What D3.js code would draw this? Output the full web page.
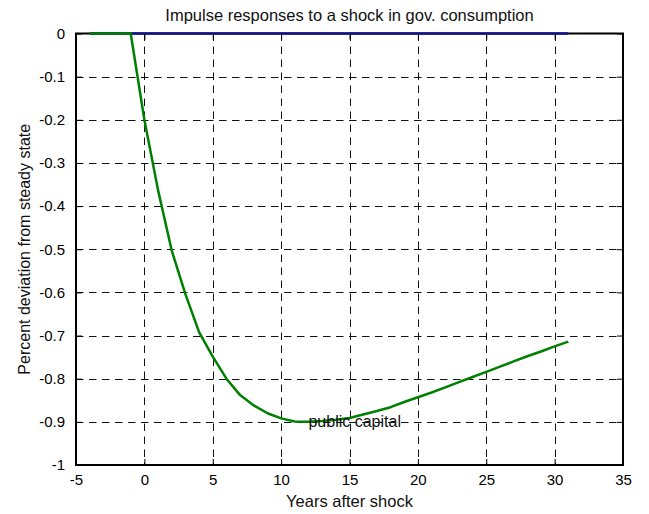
<!DOCTYPE html>
<html>
<head>
<meta charset="utf-8">
<script src="https://cdn.jsdelivr.net/npm/d3@7"></script>
<style>
  html, body { margin: 0; padding: 0; background: #fff; }
  svg { display: block; font-family: "Liberation Sans", Arial, Helvetica, sans-serif; }
</style>
</head>
<body>
<svg id="chart" width="649" height="514"></svg>
<script>
// Years after the shock (annual observations)
const years = [-4,-3,-2,-1,0,1,2,3,4,5,6,7,8,9,10,11,12,13,14,15,16,17,18,19,20,21,22,23,24,25,26,27,28,29,30,31];

// Response of government consumption (flat at steady state)
const govConsumption = [0,0,0,0,0,0,0,0,0,0,0,0,0,0,0,0,0,0,0,0,0,0,0,0,0,0,0,0,0,0,0,0,0,0,0,0];

// Response of public capital, percent deviation from steady state
const publicCapital = [0,0,0,0,-0.200,-0.363,-0.503,-0.604,-0.692,-0.749,-0.800,-0.838,-0.862,-0.880,-0.892,-0.899,-0.900,-0.898,-0.895,-0.891,-0.883,-0.875,-0.866,-0.854,-0.843,-0.832,-0.820,-0.808,-0.796,-0.784,-0.772,-0.760,-0.748,-0.737,-0.725,-0.714];

const xTicks = [-5,0,5,10,15,20,25,30,35];
const xTickLabels = ["-5","0","5","10","15","20","25","30","35"];
const yTicks = [0,-0.1,-0.2,-0.3,-0.4,-0.5,-0.6,-0.7,-0.8,-0.9,-1];
const yTickLabels = ["0","-0.1","-0.2","-0.3","-0.4","-0.5","-0.6","-0.7","-0.8","-0.9","-1"];

const titleText = "Impulse responses to a shock in gov. consumption";
const xLabelText = "Years after shock";
const yLabelText = "Percent deviation from steady state";
const annotation = { text: "public capital", x: 12, y: -0.9 };

const svg = d3.select("#chart");
const L = 76, R = 623, T = 33.5, B = 465;

const x = d3.scaleLinear().domain([-5, 35]).range([L, R]);
const y = d3.scaleLinear().domain([-1, 0]).range([B, T]);

const tickLen = 6;
const dash = "7.5,5.5";
const fontFamily = '"Liberation Sans", Arial, Helvetica, sans-serif';

// Grid lines
const grid = svg.append("g");
grid.selectAll(".vg").data(xTicks.slice(1, -1)).join("line")
  .attr("x1", d => Math.round(x(d)) + 0.5).attr("x2", d => Math.round(x(d)) + 0.5)
  .attr("y1", T).attr("y2", B)
  .attr("stroke", "#111").attr("stroke-width", 1).attr("stroke-dasharray", dash);
grid.selectAll(".hg").data(yTicks.slice(1, -1)).join("line")
  .attr("x1", L).attr("x2", R)
  .attr("y1", d => Math.round(y(d)) + 0.5).attr("y2", d => Math.round(y(d)) + 0.5)
  .attr("stroke", "#111").attr("stroke-width", 1).attr("stroke-dasharray", dash);

// Axes via d3.axis with inward ticks
const tickFont = 15;
const xAxis = svg.append("g").attr("transform", `translate(0,${B})`)
  .call(d3.axisBottom(x).tickValues(xTicks).tickSizeInner(-tickLen).tickSizeOuter(0).tickPadding(9)
    .tickFormat((d, i) => xTickLabels[i]));
const xAxisTop = svg.append("g").attr("transform", `translate(0,${T})`)
  .call(d3.axisTop(x).tickValues(xTicks).tickSizeInner(-tickLen).tickSizeOuter(0).tickFormat(""));
const yAxis = svg.append("g").attr("transform", `translate(${L},0)`)
  .call(d3.axisLeft(y).tickValues(yTicks).tickSizeInner(-tickLen).tickSizeOuter(0).tickPadding(11)
    .tickFormat((d, i) => yTickLabels[i]));
const yAxisRight = svg.append("g").attr("transform", `translate(${R},0)`)
  .call(d3.axisRight(y).tickValues(yTicks).tickSizeInner(-tickLen).tickSizeOuter(0).tickFormat(""));

[xAxis, xAxisTop, yAxis, yAxisRight].forEach(g => {
  g.select(".domain").remove();
  g.selectAll(".tick line").attr("stroke", "#000").attr("stroke-width", 1);
  g.selectAll(".tick text").attr("fill", "#000")
    .style("font-size", tickFont + "px")
    .style("font-family", fontFamily);
});

// Axes box
svg.append("rect")
  .attr("x", L).attr("y", T).attr("width", R - L).attr("height", B - T)
  .attr("fill", "none").attr("stroke", "#000").attr("stroke-width", 2);

// Series lines
const line = d3.line().x((d, i) => x(years[i])).y(d => y(d));
svg.append("path").datum(govConsumption)
  .attr("d", line).attr("fill", "none")
  .attr("stroke", "#10108c").attr("stroke-width", 2.5);
svg.append("path").datum(publicCapital)
  .attr("d", line).attr("fill", "none")
  .attr("stroke", "#008000").attr("stroke-width", 2.5)
  .attr("stroke-linejoin", "round");

// Annotation
svg.append("text")
  .attr("x", x(annotation.x)).attr("y", y(annotation.y))
  .attr("dominant-baseline", "central")
  .style("font-size", "16px").attr("fill", "#111")
  .text(annotation.text);

// Title and axis labels
svg.append("text")
  .attr("x", (L + R) / 2).attr("y", 21)
  .attr("text-anchor", "middle")
  .style("font-size", "16.5px").attr("fill", "#111")
  .text(titleText);
svg.append("text")
  .attr("x", (L + R) / 2).attr("y", 507)
  .attr("text-anchor", "middle")
  .style("font-size", "16.5px").attr("fill", "#111")
  .text(xLabelText);
svg.append("text")
  .attr("transform", `translate(30,${(T + B) / 2}) rotate(-90)`)
  .attr("text-anchor", "middle")
  .style("font-size", "16px").attr("fill", "#111")
  .text(yLabelText);
</script>
</body>
</html>
